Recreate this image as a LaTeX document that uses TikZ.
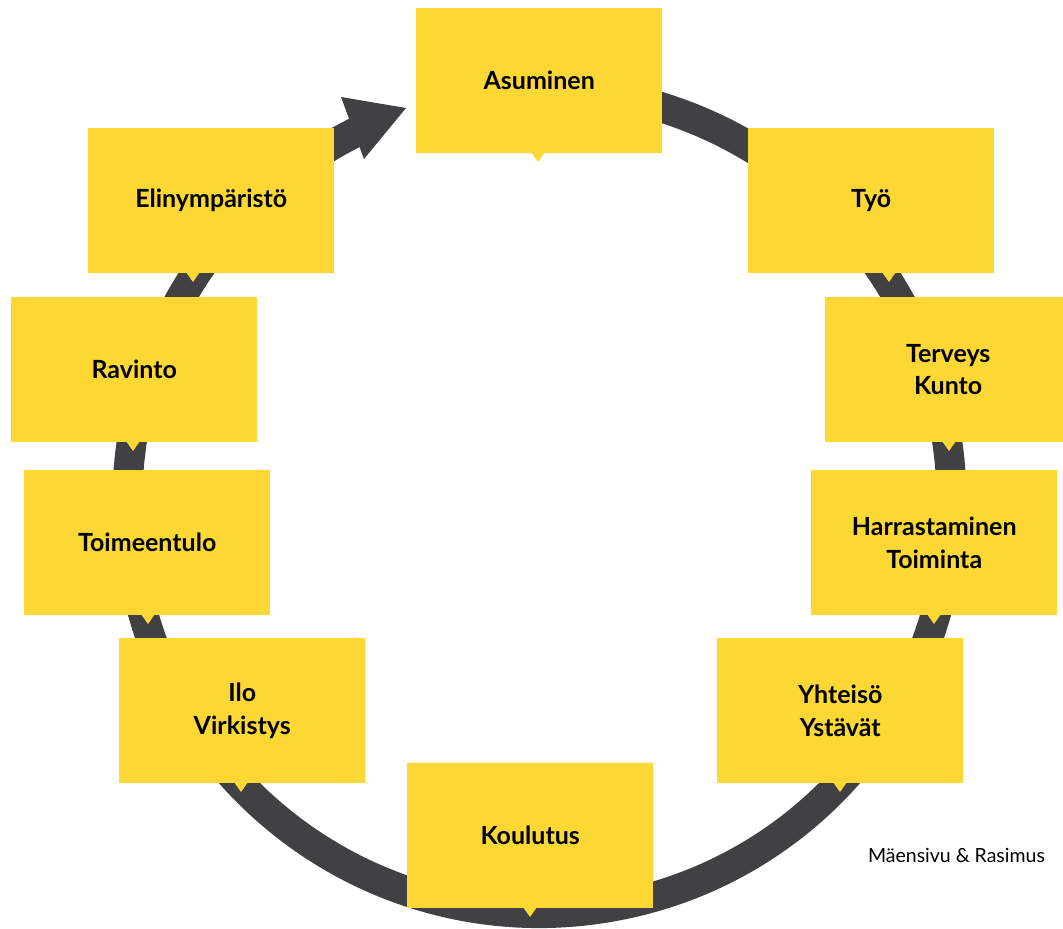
\documentclass[tikz,border=0pt]{standalone}
\usepackage{fontspec}
\setmainfont{Lato}
\definecolor{boxyellow}{HTML}{FDD733}
\definecolor{ringgray}{HTML}{414143}
\newcommand\cardfont{\fontsize{25}{32.5}\selectfont\bfseries}
\tikzset{
  card/.style={fill=boxyellow, minimum width=246pt, minimum height=145pt, inner sep=0pt,
    align=center, font=\cardfont, anchor=north west, text=black},
  ring/.style={draw=ringgray, line width=30pt},
  tail/.style={fill=boxyellow},
}
\begin{document}
\begin{tikzpicture}[x=1pt,y=-1pt]
\useasboundingbox (0,0) rectangle (1063,929);
\coordinate (c) at (539.5,501);
% ring
\draw[ring] (c) ++(-100:412) arc[start angle=-100, end angle=245, radius=412];
% arrow head
\fill[ringgray] (406,108) coordinate (tip) -- (341,97) -- (364,159) -- cycle;
% cards
\foreach \n/\x/\y/\t/\txt in {
  asu/416/8/538/{Asuminen},
  tyo/748/128/889/{Työ},
  eli/88/128/193/{Elinympäristö},
  rav/11/297/133/{Ravinto},
  ter/825/297/949/{Terveys\\Kunto},
  toi/24/470/148/{Toimeentulo},
  har/811/470/934/{Harrastaminen\\Toiminta},
  ilo/119/638/241/{Ilo\\Virkistys},
  yht/717/638/840/{Yhteisö\\Ystävät},
  kou/407/763/530/{Koulutus}}{
  \node[card] (\n) at (\x,\y) {\txt};
  \fill[tail] (\t-7,\y+144) -- (\t,\y+154) -- (\t+7,\y+144) -- cycle;
}
\node[font=\fontsize{19.5}{23}\selectfont, anchor=center] (credit) at (956.5,855) {Mäensivu \& Rasimus};
\end{tikzpicture}
\end{document}
